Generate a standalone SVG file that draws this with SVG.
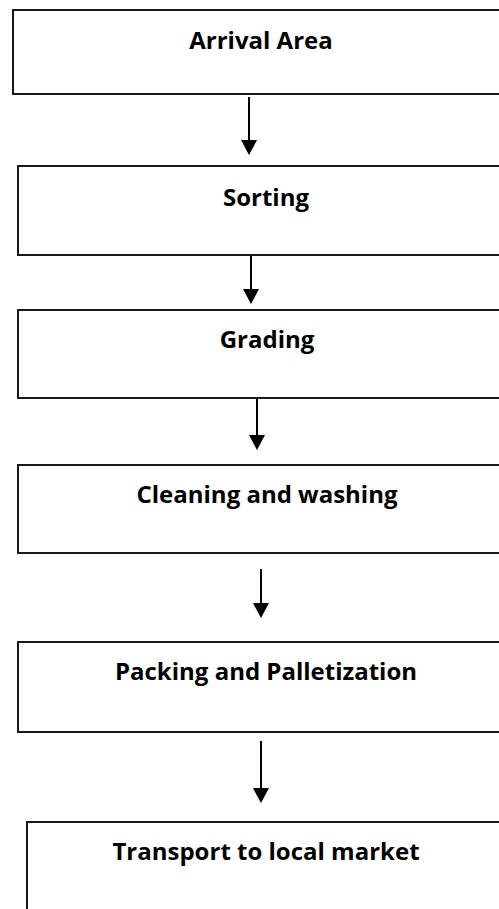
<svg xmlns="http://www.w3.org/2000/svg" width="499" height="909" viewBox="0 0 499 909">
  <defs>
    <style>
      .box { fill: #ffffff; stroke: #000000; stroke-width: 1.8; }
      .lbl { font-family: "Open Sans", "Liberation Sans", sans-serif; font-weight: bold; font-size: 24px; fill: #000000; text-anchor: middle; }
      .conn { stroke: #000000; stroke-width: 2; fill: none; marker-end: url(#arrow); }
    </style>
    <marker id="arrow" markerUnits="userSpaceOnUse" markerWidth="15" markerHeight="16" refX="13" refY="8" orient="auto">
      <path d="M0,0 L15,8 L0,16 z" fill="#000000"/>
    </marker>
  </defs>
  <rect width="499" height="909" fill="#ffffff"/>
  <g id="node-arrival">
    <rect class="box" x="13" y="10" width="510" height="84"/>
    <text class="lbl" x="261" y="49">Arrival Area</text>
  </g>
  <g id="node-sorting">
    <rect class="box" x="18" y="166" width="505" height="89"/>
    <text class="lbl" x="266" y="206">Sorting</text>
  </g>
  <g id="node-grading">
    <rect class="box" x="18" y="310" width="505" height="88"/>
    <text class="lbl" x="267" y="348">Grading</text>
  </g>
  <g id="node-cleaning">
    <rect class="box" x="18" y="465" width="505" height="88"/>
    <text class="lbl" x="267" y="503">Cleaning and washing</text>
  </g>
  <g id="node-packing">
    <rect class="box" x="18" y="642" width="505" height="90"/>
    <text class="lbl" x="266" y="680">Packing and Palletization</text>
  </g>
  <g id="node-transport">
    <rect class="box" x="27" y="822" width="500" height="110"/>
    <text class="lbl" x="266" y="860">Transport to local market</text>
  </g>
  <g id="connectors">
    <line class="conn" x1="249" y1="97" x2="249" y2="153"/>
    <line class="conn" x1="251" y1="256" x2="251" y2="302"/>
    <line class="conn" x1="257" y1="399" x2="257" y2="448"/>
    <line class="conn" x1="261" y1="569" x2="261" y2="616"/>
    <line class="conn" x1="261" y1="741" x2="261" y2="801"/>
  </g>
</svg>
